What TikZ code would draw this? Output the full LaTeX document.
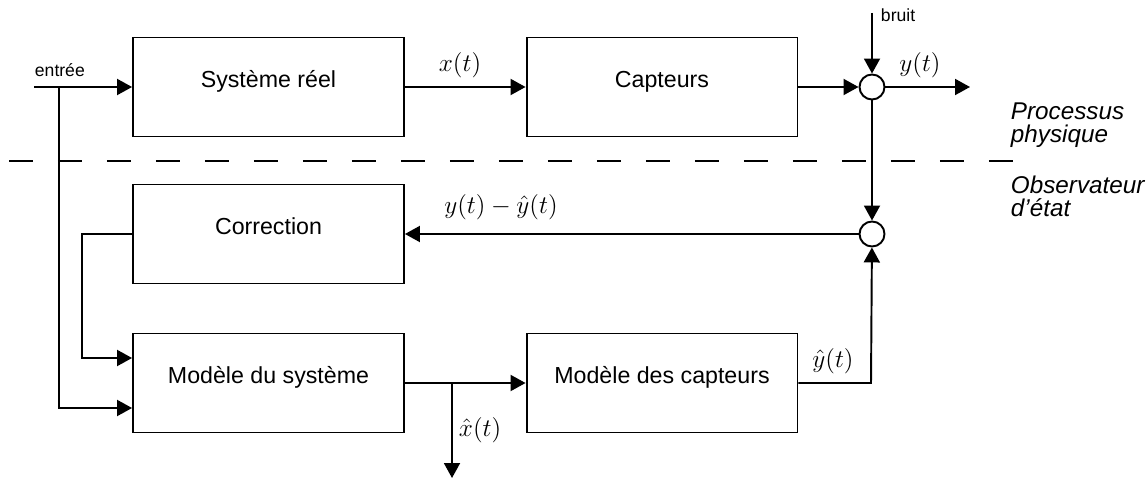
\documentclass[tikz,border=0pt]{standalone}
\usepackage{amsmath,
			amssymb,
			fontspec
			}
\setsansfont{Liberation Sans}
\usetikzlibrary{arrows.meta, calc}

\begin{document}
\begin{tikzpicture}[x = 0.02cm, y = -0.02cm, line width = 1.1pt,
	bloc/.style = {draw, rectangle, minimum width = 5.42cm, minimum height = 1.98cm, text height = 10pt, text depth = 9pt, font = \sffamily\fontsize{13.2}{15}\selectfont},
	somme/.style = {draw, circle, inner sep = 0pt, minimum size = 0.5cm},
	fleche/.style = {-{Triangle[length = 0.3cm, width = 0.32cm]}},
	petit/.style = {inner sep = 0pt, font = \sffamily\fontsize{10}{12}\selectfont},
	signal/.style = {inner sep = 0pt, font = \fontsize{14.2}{16}\selectfont},
	zone/.style = {inner sep = 0pt, align = left, font = \sffamily\itshape\fontsize{13.8}{13.1}\selectfont}]
	\useasboundingbox (0,0) rectangle (1148,479);
	% processus physique
	\node[bloc] (reel) at (268.5,87) {Système réel};
	\node[bloc] (capt) at (662,87) {Capteurs};
	\node[somme] (sommeA) at (872,87) {};
	% observateur
	\node[bloc] (corr) at (268.5,234) {Correction};
	\node[somme] (sommeB) at (872,234) {};
	\node[bloc] (modsys) at (268.5,383) {Modèle du système};
	\node[bloc] (modcapt) at (662,383) {Modèle des capteurs};
	\coordinate (entree) at (34,87); \coordinate (noeud) at (59,87);
	\coordinate (bruit) at (872,13); \coordinate (sortie) at (970,87);
	\coordinate (noeudx) at (452,383); \coordinate (xest) at (452,478);
	\coordinate (coin) at (871,383);
	% separation
	\draw[dash pattern = on 0.48cm off 0.5cm] (9,161) -- (1018,161);
	% fleches
	\draw[fleche] (entree) -- (reel);
	\draw[fleche] (noeud) |- ($(modsys.west)+(0,25)$);
	\draw[fleche] (corr.west) -- ++(-50,0) |- ($(modsys.west)+(0,-25)$);
	\draw[fleche] (reel) -- (capt);
	\draw[fleche] (capt) -- (sommeA);
	\draw[fleche] (bruit) -- (sommeA);
	\draw[fleche] (sommeA) -- (sortie);
	\draw[fleche] (sommeA) -- (sommeB);
	\draw[fleche] (sommeB) -- (corr);
	\draw[fleche] (modsys) -- (modcapt);
	\draw[fleche] (noeudx) -- (xest);
	\draw[fleche] (modcapt) -- (coin) -- (sommeB);
	% textes
	\node[petit, anchor = base west] (lentree) at (34,77) {entrée};
	\node[petit, anchor = base west] (lbruit) at (880,22) {bruit};
	\node[signal, anchor = base] (lx) at (460,72) {$x(t)$};
	\node[signal, anchor = base] (ly) at (920,72) {$y(t)$};
	\node[signal, anchor = base] (lerr) at (501,214) {$y(t) - \hat{y}(t)$};
	\node[signal, anchor = base] (lyh) at (833,367) {$\hat{y}(t)$};
	\node[signal, anchor = base west] (lxh) at (458,436) {$\hat{x}(t)$};
	\node[zone, anchor = base west] (proc) at (1010,143) {Processus\\physique};
	\node[zone, anchor = base west] (obs) at (1010,217) {Observateur\\d\char"27 état};
\end{tikzpicture}
\end{document}
